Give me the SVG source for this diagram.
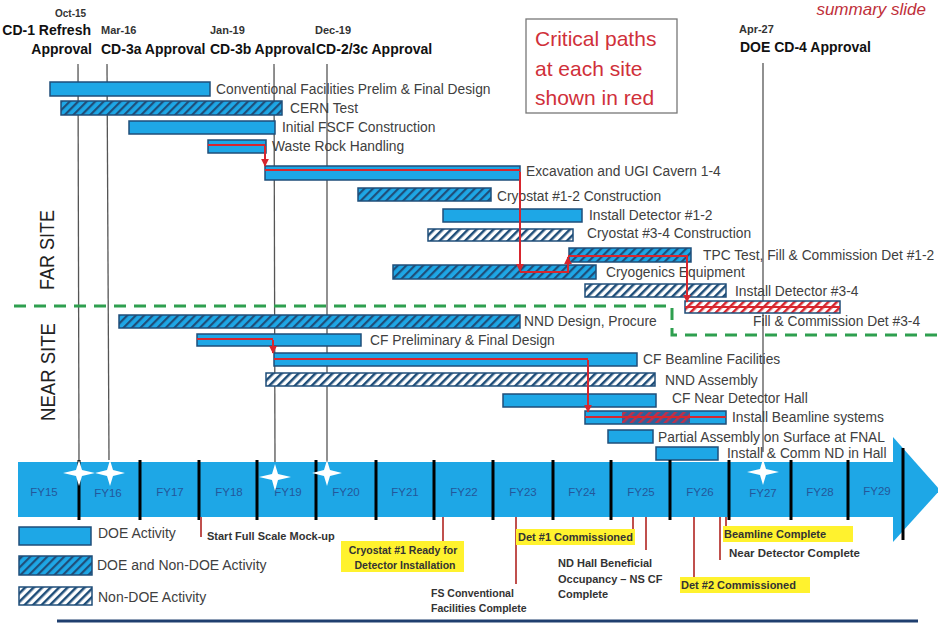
<svg xmlns="http://www.w3.org/2000/svg" width="938" height="624" viewBox="0 0 938 624">
<style>
text{font-family:"Liberation Sans",Arial,sans-serif;}
.lbl{font-size:13.8px;fill:#404040;}
.hdr{font-size:14px;font-weight:bold;fill:#111;}
.date{font-size:11px;font-weight:bold;fill:#333;}
.fy{font-size:11.5px;fill:#24579A;}
.ms{font-size:11px;font-weight:bold;fill:#333;}
.leg{font-size:14px;fill:#404040;}
.site{font-size:20px;fill:#222;}
.bar{stroke:#1F4E79;stroke-width:1.5;}
.solid{fill:#1EA7E6;}
.both{fill:url(#hBoth);}
.non{fill:url(#hNon);}
.redh{fill:url(#hRed);}
.crit{stroke:#D7262E;stroke-width:2;fill:none;}
.mline{stroke:#555;stroke-width:1.3;}
.div{stroke:#000;stroke-width:3;}
.tick{stroke:#C0504D;stroke-width:2;}
.hl{fill:#FFF22E;}
.star{fill:#fff;}
.crt{font-size:21px;fill:#D0303A;}
</style>
<defs>
<pattern id="hBoth" width="6" height="6" patternUnits="userSpaceOnUse" patternTransform="rotate(45)"><rect width="6" height="6" fill="#1EA7E6"/><rect width="2.2" height="6" fill="#1F4E79"/></pattern>
<pattern id="hNon" width="6" height="6" patternUnits="userSpaceOnUse" patternTransform="rotate(45)"><rect width="6" height="6" fill="#fff"/><rect width="2.5" height="6" fill="#1F4E79"/></pattern>
<pattern id="hRed" width="6" height="6" patternUnits="userSpaceOnUse" patternTransform="rotate(45)"><rect width="6" height="6" fill="#fff"/><rect width="2.5" height="6" fill="#D7262E"/></pattern>
<pattern id="hRedBlue" width="6" height="6" patternUnits="userSpaceOnUse" patternTransform="rotate(45)"><rect width="6" height="6" fill="#2E5F9A"/><rect width="2.5" height="6" fill="#C0304A"/></pattern>
<marker id="arr" viewBox="0 0 10 10" refX="9" refY="5" markerWidth="4" markerHeight="4" orient="auto"><path d="M0,0 L10,5 L0,10 Z" fill="#D7262E"/></marker>
</defs>
<rect width="938" height="624" fill="#fff"/>

<text x="926" y="15" text-anchor="end" style="font-size:17px;font-style:italic;fill:#C0303A">summary slide</text>

<!-- milestone header labels -->
<g id="ms-cd1">
<text class="date" x="55" y="17" style="font-size:10px">Oct-15</text>
<text class="hdr" x="91" y="35" text-anchor="end">CD-1 Refresh</text>
<text class="hdr" x="92" y="54" text-anchor="end">Approval</text>
</g>
<g id="ms-cd3a">
<text class="date" x="101" y="34">Mar-16</text>
<text class="hdr" x="101" y="54">CD-3a Approval</text>
</g>
<g id="ms-cd3b">
<text class="date" x="210" y="34">Jan-19</text>
<text class="hdr" x="210" y="54">CD-3b Approval</text>
</g>
<g id="ms-cd2">
<text class="date" x="315" y="34">Dec-19</text>
<text class="hdr" x="316" y="54">CD-2/3c Approval</text>
</g>
<g id="ms-cd4">
<text class="date" x="739" y="33">Apr-27</text>
<text class="hdr" x="740" y="52">DOE CD-4 Approval</text>
</g>

<g id="note-critical">
<rect x="526" y="19" width="151" height="94" fill="#fff" stroke="#777" stroke-width="1.3"/>
<text class="crt" x="535" y="46">Critical paths</text>
<text class="crt" x="535" y="76">at each site</text>
<text class="crt" x="535" y="105">shown in red</text>
</g>

<!-- milestone vertical lines -->
<g id="milestone-lines">
<line class="mline" x1="78" y1="64" x2="79" y2="462"/>
<line class="mline" x1="107" y1="64" x2="109" y2="460"/>
<line class="mline" x1="274" y1="64" x2="275" y2="462"/>
<line class="mline" x1="327" y1="64" x2="327" y2="462"/>
<line class="mline" x1="763" y1="63" x2="763" y2="452"/>
</g>

<!-- site divider -->
<path d="M14,306 H672 V335 H938" fill="none" stroke="#2E9F4F" stroke-width="3" stroke-dasharray="12 8"/>

<text class="site" transform="translate(54,250) rotate(-90)" text-anchor="middle" textLength="80" lengthAdjust="spacingAndGlyphs">FAR SITE</text>
<text class="site" transform="translate(55,372) rotate(-90)" text-anchor="middle" textLength="98" lengthAdjust="spacingAndGlyphs">NEAR SITE</text>

<!-- activity bars -->
<g id="a01"><rect class="bar solid" x="50" y="82" width="160" height="14"/><text class="lbl" x="216" y="94">Conventional Facilities Prelim &amp; Final Design</text></g>
<g id="a02"><rect class="bar both" x="61" y="101" width="221" height="14"/><text class="lbl" x="290" y="113">CERN Test</text></g>
<g id="a03"><rect class="bar solid" x="129" y="121" width="146" height="13"/><text class="lbl" x="282" y="132">Initial FSCF Construction</text></g>
<g id="a04"><rect class="bar solid" x="208" y="140" width="58" height="13"/><line class="crit" x1="208" y1="145" x2="265" y2="145"/><text class="lbl" x="272" y="151">Waste Rock Handling</text></g>
<g id="a05"><rect class="bar solid" x="265" y="166" width="255" height="14"/><line class="crit" x1="265" y1="170" x2="520" y2="170"/><text class="lbl" x="526" y="176">Excavation and UGI Cavern 1-4</text></g>
<g id="a06"><rect class="bar both" x="358" y="188" width="133" height="13"/><text class="lbl" x="497" y="201">Cryostat #1-2 Construction</text></g>
<g id="a07"><rect class="bar solid" x="443" y="209" width="139" height="13"/><text class="lbl" x="589" y="220">Install Detector #1-2</text></g>
<g id="a08"><rect class="bar non" x="428" y="229" width="145" height="12"/><text class="lbl" x="587" y="238">Cryostat #3-4 Construction</text></g>
<g id="a09"><rect class="bar both" x="569" y="248" width="122" height="14"/><text class="lbl" x="703" y="260">TPC Test, Fill &amp; Commission Det #1-2</text></g>
<g id="a10"><rect class="bar both" x="393" y="265" width="203" height="14"/><text class="lbl" x="606" y="277">Cryogenics Equipment</text></g>
<g id="a11"><rect class="bar non" x="585" y="284" width="141" height="13"/><text class="lbl" x="735" y="296">Install Detector #3-4</text></g>
<g id="a12"><rect class="bar redh" x="685" y="301" width="155" height="12"/><line class="crit" x1="685" y1="307" x2="840" y2="307"/><text class="lbl" x="753" y="326">Fill &amp; Commission Det #3-4</text></g>
<g id="a13"><rect class="bar both" x="119" y="315" width="401" height="13"/><text class="lbl" x="524" y="326">NND Design, Procure</text></g>
<g id="a14"><rect class="bar solid" x="197" y="334" width="164" height="12"/><line class="crit" x1="197" y1="339" x2="273" y2="339"/><text class="lbl" x="370" y="345">CF Preliminary &amp; Final Design</text></g>
<g id="a15"><rect class="bar solid" x="274" y="353" width="363" height="13"/><line class="crit" x1="274" y1="359" x2="588" y2="359"/><text class="lbl" x="643" y="364">CF Beamline Facilities</text></g>
<g id="a16"><rect class="bar non" x="266" y="373" width="389" height="13"/><text class="lbl" x="665" y="385">NND Assembly</text></g>
<g id="a17"><rect class="bar solid" x="503" y="394" width="153" height="13"/><text class="lbl" x="672" y="403">CF Near Detector Hall</text></g>
<g id="a18"><rect class="bar solid" x="585" y="411" width="141" height="13"/><rect x="622" y="412" width="68" height="11" fill="url(#hRedBlue)"/><line class="crit" x1="585" y1="417" x2="726" y2="417"/><text class="lbl" x="732" y="422">Install Beamline systems</text></g>
<g id="a19"><rect class="bar solid" x="608" y="430" width="45" height="13"/><text class="lbl" x="658" y="442">Partial Assembly on Surface at FNAL</text></g>
<g id="a20"><rect class="bar solid" x="656" y="447" width="62" height="13"/><text class="lbl" x="727" y="458">Install &amp; Comm ND in Hall</text></g>

<!-- critical path connectors -->
<g id="connectors">
<path class="crit" d="M265,146 V166" marker-end="url(#arr)"/>
<path class="crit" d="M520,172 V271" marker-end="url(#arr)"/>
<path class="crit" d="M520,272 H568 V257" marker-end="url(#arr)"/>
<path class="crit" d="M568,256 H687 V302" marker-end="url(#arr)"/>
<path class="crit" d="M273,340 V353" marker-end="url(#arr)"/>
<path class="crit" d="M588,360 V412" marker-end="url(#arr)"/>
</g>

<!-- timeline -->
<g id="timeline">
<rect x="18" y="462" width="876" height="55" fill="#1EA7E6"/>
<polygon points="893,437 940,490 893,542" fill="#1EA7E6"/>
<line class="div" x1="79" y1="460" x2="79" y2="520"/>
<line class="div" x1="140" y1="460" x2="140" y2="520"/>
<line class="div" x1="199" y1="460" x2="199" y2="520"/>
<line class="div" x1="257" y1="460" x2="257" y2="520"/>
<line class="div" x1="316" y1="460" x2="316" y2="520"/>
<line class="div" x1="376" y1="460" x2="376" y2="520"/>
<line class="div" x1="434" y1="460" x2="434" y2="520"/>
<line class="div" x1="493" y1="460" x2="493" y2="520"/>
<line class="div" x1="553" y1="460" x2="553" y2="520"/>
<line class="div" x1="611" y1="460" x2="611" y2="520"/>
<line class="div" x1="670" y1="460" x2="670" y2="520"/>
<line class="div" x1="729" y1="460" x2="729" y2="520"/>
<line class="div" x1="791" y1="460" x2="791" y2="520"/>
<line class="div" x1="848" y1="460" x2="848" y2="520"/>
<line class="div" x1="903" y1="448" x2="903" y2="540"/>
<text class="fy" x="44" y="496" text-anchor="middle">FY15</text>
<text class="fy" x="108" y="497" text-anchor="middle">FY16</text>
<text class="fy" x="170" y="496" text-anchor="middle">FY17</text>
<text class="fy" x="229" y="496" text-anchor="middle">FY18</text>
<text class="fy" x="288" y="496" text-anchor="middle">FY19</text>
<text class="fy" x="346" y="496" text-anchor="middle">FY20</text>
<text class="fy" x="405" y="496" text-anchor="middle">FY21</text>
<text class="fy" x="464" y="496" text-anchor="middle">FY22</text>
<text class="fy" x="523" y="496" text-anchor="middle">FY23</text>
<text class="fy" x="582" y="496" text-anchor="middle">FY24</text>
<text class="fy" x="641" y="496" text-anchor="middle">FY25</text>
<text class="fy" x="700" y="496" text-anchor="middle">FY26</text>
<text class="fy" x="763" y="497" text-anchor="middle">FY27</text>
<text class="fy" x="820" y="496" text-anchor="middle">FY28</text>
<text class="fy" x="877" y="495" text-anchor="middle">FY29</text>
<path class="star" d="M79,460 L82,470 L95,473 L82,476 L79,486 L76,476 L63,473 L76,470 Z"/>
<path class="star" d="M110,460 L113,470 L125,473 L113,476 L110,486 L107,476 L95,473 L107,470 Z"/>
<path class="star" d="M275,464 L278,474 L291,477 L278,480 L275,491 L272,480 L259,477 L272,474 Z"/>
<path class="star" d="M327,460 L330,470 L342,473 L330,476 L327,486 L324,476 L312,473 L324,470 Z"/>
<path class="star" d="M763,459 L766,469 L779,472 L766,475 L763,485 L760,475 L747,472 L760,469 Z"/>
</g>

<!-- legend -->
<g id="legend">
<rect class="bar solid" x="19" y="527" width="72" height="18"/><text class="leg" x="98" y="538">DOE Activity</text>
<rect class="bar both" x="19" y="556" width="73" height="19"/><text class="leg" x="97" y="570">DOE and Non-DOE Activity</text>
<rect class="bar non" x="19" y="587" width="73" height="18"/><text class="leg" x="98" y="602">Non-DOE Activity</text>
</g>

<!-- bottom milestones -->
<g id="m-mockup"><line class="tick" x1="201" y1="517" x2="201" y2="537"/><text class="ms" x="207" y="540">Start Full Scale Mock-up</text></g>
<g id="m-cryo1"><line class="tick" x1="443" y1="517" x2="443" y2="541"/><rect class="hl" x="341" y="541" width="123" height="31"/><text class="ms" x="403" y="554" text-anchor="middle" style="font-size:10.5px">Cryostat #1 Ready for</text><text class="ms" x="405" y="569" text-anchor="middle" style="font-size:10.5px">Detector Installation</text></g>
<g id="m-fscf"><line class="tick" x1="516" y1="517" x2="516" y2="584"/><text class="ms" x="431" y="597" style="font-size:10.5px">FS Conventional</text><text class="ms" x="431" y="612" style="font-size:10.5px">Facilities Complete</text></g>
<g id="m-det1"><line class="tick" x1="633" y1="517" x2="633" y2="529"/><rect class="hl" x="516" y="529" width="119" height="16"/><text class="ms" x="518" y="541">Det #1 Commissioned</text></g>
<g id="m-ndhall"><line class="tick" x1="646" y1="517" x2="646" y2="550"/><text class="ms" x="558" y="567">ND Hall  Beneficial</text><text class="ms" x="558" y="583">Occupancy  – NS CF</text><text class="ms" x="558" y="598">Complete</text></g>
<g id="m-det2"><line class="tick" x1="694" y1="517" x2="694" y2="578"/><rect class="hl" x="680" y="577" width="130" height="16"/><text class="ms" x="681" y="589">Det #2 Commissioned</text></g>
<g id="m-beam"><line class="tick" x1="726" y1="517" x2="726" y2="526"/><rect class="hl" x="723" y="526" width="130" height="16"/><text class="ms" x="724" y="538">Beamline  Complete</text></g>
<g id="m-nd"><line class="tick" x1="720" y1="517" x2="720" y2="560"/><text class="ms" x="729" y="557" style="font-size:11.5px">Near Detector Complete</text></g>

<line x1="57" y1="621" x2="918" y2="621" stroke="#1F3F6F" stroke-width="3"/>
</svg>
